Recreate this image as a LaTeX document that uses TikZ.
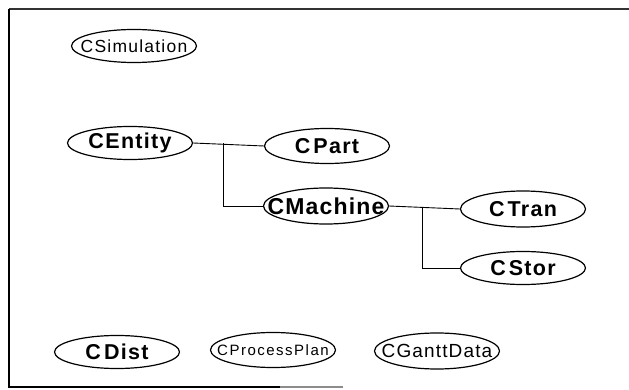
\documentclass[tikz,border=0pt]{standalone}
\usepackage{fontspec}
\setmainfont{Liberation Sans}
\usetikzlibrary{shapes.geometric}
\newcommand{\Cgap}[1]{C\kern#1pt\relax}
\begin{document}
\begin{tikzpicture}[x=1pt,y=-1pt,
  cls/.style={ellipse, draw, line width=1.2pt, inner sep=0pt,
    minimum width=125pt, minimum height=33pt},
  big/.style={inner sep=0pt, font=\fontsize{21.5}{21.5}\selectfont\bfseries\addfontfeature{LetterSpace=6}},
  bigger/.style={inner sep=0pt, font=\fontsize{23}{23}\selectfont\bfseries\addfontfeature{LetterSpace=5}},
  small/.style={inner sep=0pt, font=\fontsize{17.5}{17.5}\selectfont\addfontfeature{LetterSpace=7}},
  tiny/.style={inner sep=0pt, font=\fontsize{15}{15}\selectfont\addfontfeature{LetterSpace=10}},
  mid/.style={inner sep=0pt, font=\fontsize{19}{19}\selectfont\addfontfeature{LetterSpace=6}},
  wire/.style={line width=0.9pt},
  frame/.style={line width=1.1pt}]
\useasboundingbox (0,0) rectangle (629,390);

% open frame: top, left and part of the bottom edge
\coordinate (tr) at (629,9);
\coordinate (tl) at (9,9);
\coordinate (bl) at (9,387);
\coordinate (bm) at (280,387);
\coordinate (br) at (343,387);
\draw[frame, black!80] (tr) -- (tl);
\draw[frame] (tl) -- (bl) -- (bm);
\draw[frame, black!45] (bm) -- (br);

% classes
\node[cls, label={[small]center:CSimulation}] (sim) at (134,46) {};
\node[cls, label={[big]center:\Cgap{1.5}Entity}] (entity) at (130,143) {};
\node[cls, minimum height=35pt, label={[big]center:\Cgap{3}Part}] (part) at (327,146) {};
\node[cls, minimum height=36pt, label={[bigger]center:CMachine}] (machine) at (326,206) {};
\node[cls, minimum height=36pt, label={[big]center:\Cgap{3}Tran}] (tran) at (523,209) {};
\node[cls, label={[big]center:\Cgap{3}Stor}] (stor) at (523,268) {};
\node[cls, label={[big]center:\Cgap{3}Dist}] (dist) at (117,352) {};
\node[cls, minimum height=35pt, label={[tiny]center:CProcessPlan}] (plan) at (273,350) {};
\node[cls, minimum height=36pt, label={[mid]center:CGanttData}] (gantt) at (437,351) {};

% inheritance links
\coordinate (j1) at (223,143);
\coordinate (j2) at (422,207);
\draw[wire] (entity.east) -- (part.west);
\draw[wire] (j1) |- (machine.west);
\draw[wire] (machine.east) -- (tran.west);
\draw[wire] (j2) |- (stor.west);
\end{tikzpicture}
\end{document}
